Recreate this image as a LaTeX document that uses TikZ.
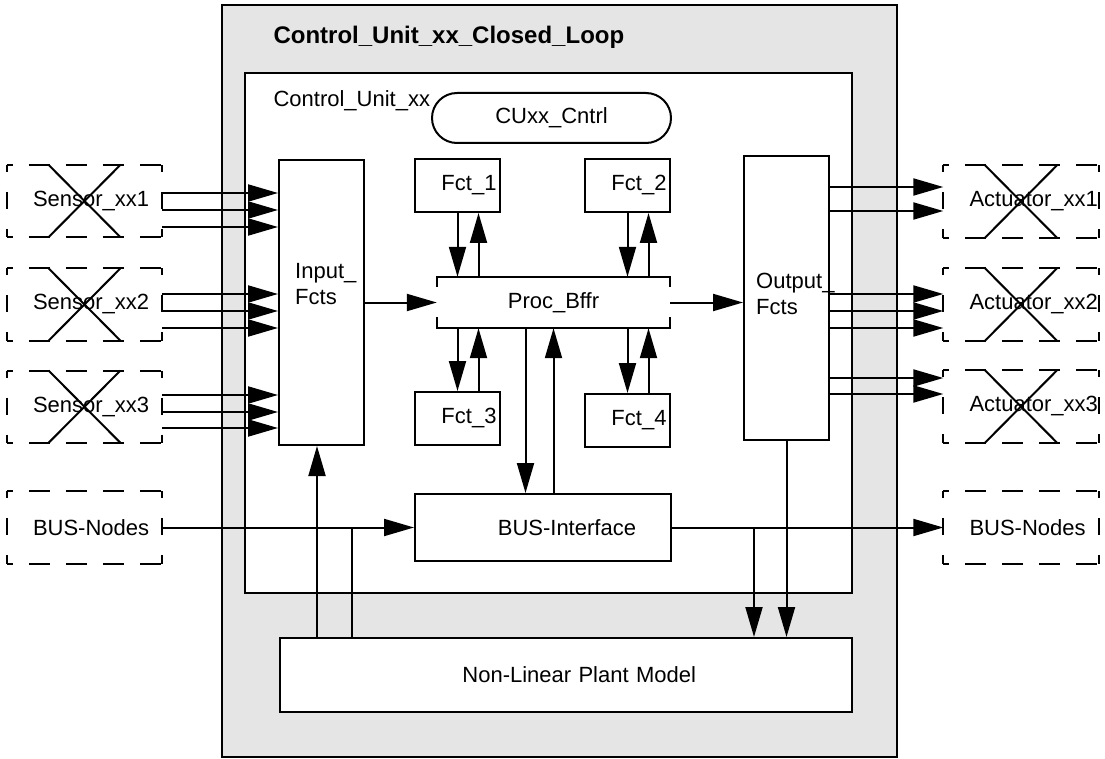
\documentclass[tikz,border=0pt]{standalone}
\usepackage{fontspec}
\setmainfont{Liberation Sans}
\usetikzlibrary{arrows.meta}
\hyphenpenalty=10000
\exhyphenpenalty=10000

\tikzset{
  every node/.style={font=\fontsize{22}{26}\selectfont},
  blk/.style={draw, line width=2pt, fill=white, inner sep=0pt},
  fct/.style={blk, minimum width=85pt, minimum height=53pt, text width=78pt, align=right},
  ext/.style={minimum width=155pt, minimum height=72pt, text width=103pt, inner xsep=26pt, align=left},
  hdash/.style={line width=2pt, dash pattern=on 21pt off 16pt, dash phase=15pt},
  vdash/.style={line width=2pt, dash pattern=on 17pt off 20pt, dash phase=10pt},
  con/.style={line width=2pt},
  arr/.style={line width=2pt, -{Triangle[length=30pt,width=17pt]}},
}

\begin{document}
\begin{tikzpicture}[x=1pt,y=-1pt]
  \useasboundingbox (0,0) rectangle (1105,759);
  \node[draw, line width=2.5pt, fill=gray!20, minimum width=675pt, minimum height=752pt] (clp) at (559.5,381) {};
  \node[anchor=base west, font=\bfseries\fontsize{24}{26}\selectfont] (clpt) at (270,44) {Control\_Unit\_xx\_Closed\_Loop};
  \node[blk, minimum width=607pt, minimum height=520pt] (cu) at (548.5,333) {};
  \node[anchor=base west] (cut) at (270,107) {Control\_Unit\_xx};
  \node[blk, rounded corners=25pt, minimum width=239pt, minimum height=50pt] (cntrl) at (551.5,118) {CUxx\_Cntrl};

  \node[blk, minimum width=85pt, minimum height=285pt] (inp) at (321.5,302.5) {};
  \node[anchor=north west, align=left, inner sep=0pt] (inpt) at (295,263) {Input\_\\Fcts};
  \node[blk, minimum width=85pt, minimum height=284pt] (outp) at (786.5,298) {};
  \node[anchor=north west, align=left, inner sep=0pt] (outpt) at (756,273) {Output\_\\Fcts};

  \node[fct] (f1) at (457.5,185.5) {Fct\_1};
  \node[fct] (f2) at (627.5,185.5) {Fct\_2};
  \node[fct] (f3) at (457.5,418.5) {Fct\_3};
  \node[fct] (f4) at (627.5,420.5) {Fct\_4};
  \node[inner sep=0pt, minimum width=233pt, minimum height=51pt] (pb) at (553.5,302.5) {Proc\_Bffr};
  \draw[con] ([yshift=-10pt]pb.north west) -- (pb.north west) -- (pb.north east) -- ([yshift=-10pt]pb.north east);
  \draw[con] ([yshift=11pt]pb.south west) -- (pb.south west) -- (pb.south east) -- ([yshift=11pt]pb.south east);
  \node[blk, minimum width=256pt, minimum height=67pt, text width=186pt, align=right] (bi) at (543,527.5) {BUS-Interface};
  \node[blk, minimum width=572pt, minimum height=74pt, text width=260pt, align=right] (pm) at (566,675) {Non-Linear Plant Model};

  \node[ext] (s1) at (84.5,201) {Sensor\_xx1};
  \node[ext] (s2) at (84.5,304.5) {Sensor\_xx2};
  \node[ext] (s3) at (84.5,406.7) {Sensor\_xx3};
  \node[ext] (bl) at (84.5,527.5) {BUS-Nodes};
  \node[ext] (a1) at (1021,201.5) {Actuator\_xx1};
  \node[ext] (a2) at (1021,304.5) {Actuator\_xx2};
  \node[ext] (a3) at (1021,406.5) {Actuator\_xx3};
  \node[ext] (br) at (1021,527.5) {BUS-Nodes};

  \foreach \b in {s1,s2,s3,bl,a1,a2,a3,br} {
    \draw[hdash] (\b.north west) -- (\b.north east);
    \draw[hdash] (\b.south west) -- (\b.south east);
    \draw[vdash] (\b.north west) -- (\b.south west);
    \draw[vdash] (\b.north east) -- (\b.south east);
  }
  \foreach \b in {s1,s2,s3,a1,a2,a3}
    \draw[con] ([xshift=-36pt]\b.north) -- ([xshift=36pt]\b.south)
               ([xshift=36pt]\b.north) -- ([xshift=-36pt]\b.south);

  \foreach \s/\y in {s1/193,s1/210,s1/227,s2/294,s2/311,s2/328,s3/395,s3/412,s3/428}
    \draw[arr] (\s.east |- 0,\y) -- (inp.west |- 0,\y);
  \foreach \a/\y in {a1/187,a1/211,a2/294,a2/311,a2/328,a3/378,a3/394}
    \draw[arr] (outp.east |- 0,\y) -- (\a.west |- 0,\y);

  \draw[arr] (inp.east |- pb.west) -- (pb.west);
  \draw[arr] (pb.east) -- (outp.west |- pb.east);
  \foreach \f in {f1,f2} {
    \draw[arr] (\f) -- (\f |- pb.north);
    \draw[arr] ([xshift=21pt]\f.south |- pb.north) -- ([xshift=21pt]\f.south);
  }
  \foreach \f in {f3,f4} {
    \draw[arr] (\f |- pb.south) -- (\f);
    \draw[arr] ([xshift=21pt]\f.north) -- ([xshift=21pt]\f.north |- pb.south);
  }
  \draw[arr] ([xshift=-28pt]pb.south) -- ([xshift=-28pt]pb.south |- bi.north);
  \draw[arr] (pb.south |- bi.north) -- (pb.south);

  \draw[arr] (bl) -- (bi);
  \draw[arr] (bi) -- (br);
  \draw[con] (352,0 |- bl) -- (352,0 |- pm.north);
  \draw[arr] (317,0 |- pm.north) -- (317,0 |- inp.south);
  \draw[arr] (754,0 |- bi) -- (754,0 |- pm.north);
  \draw[arr] (outp) -- (outp |- pm.north);
\end{tikzpicture}
\end{document}
